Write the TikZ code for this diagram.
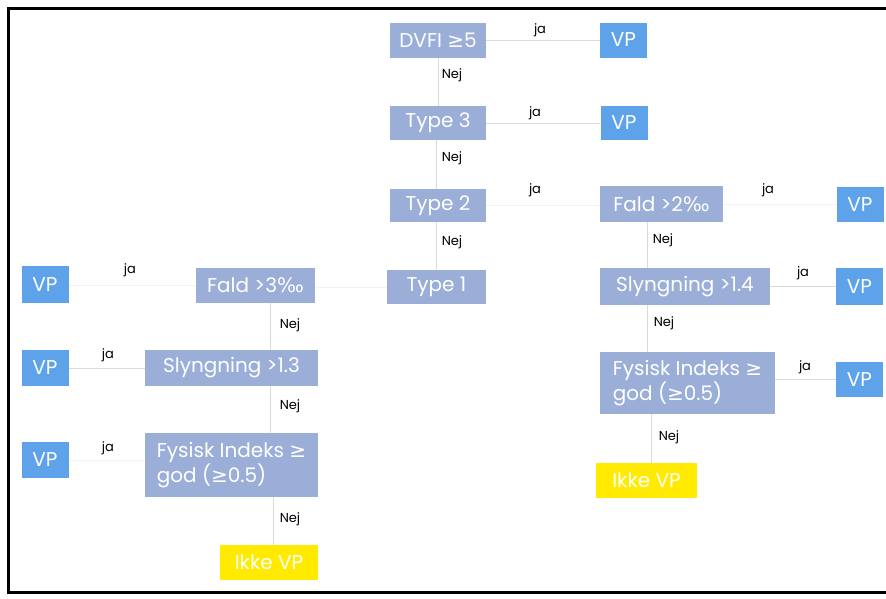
\documentclass[tikz,border=0pt]{standalone}
\usepackage{fontspec}
\setmainfont{Poppins}
\newfontfamily\symf{DejaVu Sans}
\newcommand{\gsym}{{\symf ≥}}
\newcommand{\pmil}{{\symf ‰}}
\definecolor{decblue}{HTML}{9AAED8}
\definecolor{vpblue}{HTML}{5EA2EA}
\definecolor{ikkeyel}{HTML}{FFEA00}
\definecolor{linegray}{HTML}{DADADA}
\tikzset{
  box/.style={inner sep=0pt, text=white, font=\fontsize{20}{22}\selectfont, align=left},
  dec/.style={box, fill=decblue},
  vpbox/.style={box, fill=vpblue, minimum width=47pt, minimum height=35pt},
  ikke/.style={box, fill=ikkeyel},
  lbl/.style={font=\fontsize{13}{15}\selectfont, text=black, inner sep=0pt},
  conn/.style={draw=linegray, line width=1pt},
  faint/.style={draw=black!5, line width=1pt},
  frame/.style={draw=black, line width=3pt}
}
\begin{document}
\begin{tikzpicture}[x=1pt,y=-1pt]
\useasboundingbox (0,0) rectangle (886,598);
\fill[white] (0,0) rectangle (886,598);
% frame
\coordinate (ftl) at (8,8);
\coordinate (ftr) at (886,8);
\coordinate (fbl) at (8,592);
\coordinate (fbr) at (886,592);
\draw[frame] (ftr) -- (ftl) -- (fbl) -- (fbr);
% decision nodes
\node[dec, minimum width=96pt, minimum height=35pt] (dvfi) at (438,40) {DVFI \gsym5};
\node[dec, minimum width=96pt, minimum height=34pt] (type3) at (438,123) {Type 3};
\node[dec, minimum width=96pt, minimum height=33pt] (type2) at (438,205.5) {Type 2};
\node[dec, minimum width=99pt, minimum height=34pt] (type1) at (436.5,287) {Type 1};
\node[dec, minimum width=123pt, minimum height=36pt] (fald2) at (661.5,204) {Fald >2\pmil};
\node[dec, minimum width=170pt, minimum height=37pt] (sly14) at (685,286.5) {Slyngning >1.4};
\node[dec, minimum width=175pt, minimum height=62pt] (fysr) at (687.5,383) {Fysisk Indeks \gsym\\god (\gsym0.5)};
\node[dec, minimum width=119pt, minimum height=35pt] (fald3) at (255.5,285.5) {Fald >3\pmil};
\node[dec, minimum width=173pt, minimum height=36pt] (sly13) at (231.5,368) {Slyngning >1.3};
\node[dec, minimum width=173pt, minimum height=64pt] (fysl) at (231.5,465) {Fysisk Indeks \gsym\\god (\gsym0.5)};
% VP nodes
\node[vpbox] (vp1) at (623.5,40) {VP};
\node[vpbox, minimum height=34pt] (vp2) at (624,123) {VP};
\node[vpbox] (vp3) at (860,204.5) {VP};
\node[vpbox, minimum height=37pt] (vp4) at (859.5,286.5) {VP};
\node[vpbox] (vpr) at (859.5,379.5) {VP};
\node[vpbox, minimum height=37pt] (vpl1) at (45,284.5) {VP};
\node[vpbox, minimum height=36pt] (vpl2) at (45,368) {VP};
\node[vpbox, minimum height=36pt] (vpl3) at (45,460) {VP};
% Ikke VP
\node[ikke, minimum width=98pt, minimum height=35pt] (ikkel) at (269,562.5) {Ikke VP};
\node[ikke, minimum width=101pt, minimum height=35pt] (ikker) at (646.5,480.5) {Ikke VP};
% ja connectors
\draw[conn] (dvfi.east) -- (vp1.west);
\draw[conn] (type3.east) -- (vp2.west);
\draw[faint] (type2.east) -- (type2.east -| fald2.west);
\draw[faint] (fald2.east) -- (fald2.east -| vp3.west);
\draw[conn] (sly14.east) -- (sly14.east -| vp4.west);
\draw[conn] (fysr.east |- vpr.west) -- (vpr.west);
\draw[faint] (type1.west) -- (type1.west -| fald3.east);
\draw[faint] (fald3.west) -- (fald3.west -| vpl1.east);
\draw[conn] (sly13.west) -- (sly13.west -| vpl2.east);
\draw[faint] (fysl.west |- vpl3.east) -- (vpl3.east);
% nej connectors
\draw[conn] (dvfi.south) -- (type3.north);
\draw[conn] ([xshift=-2pt]type3.south) -- ([xshift=-2pt]type3.south |- type2.north);
\draw[conn] ([xshift=-2pt]type2.south) -- ([xshift=-2pt]type2.south |- type1.north);
\draw[conn] ([xshift=-14pt]fald2.south) -- ([xshift=-14pt]fald2.south |- sly14.north);
\draw[conn] ([xshift=-14pt]fald2.south |- sly14.south) -- ([xshift=-14pt]fald2.south |- fysr.north);
\draw[conn] ([xshift=5pt]ikker.north |- fysr.south) -- ([xshift=5pt]ikker.north);
\draw[conn] ([xshift=15pt]fald3.south) -- ([xshift=15pt]fald3.south |- sly13.north);
\draw[conn] ([xshift=15pt]fald3.south |- sly13.south) -- ([xshift=15pt]fald3.south |- fysl.north);
\draw[conn] ([xshift=4pt]ikkel.north |- fysl.south) -- ([xshift=4pt]ikkel.north);
% labels
\node[lbl] (j1) at (540,30) {ja};
\node[lbl] (j2) at (535,113) {ja};
\node[lbl] (j3) at (535,190) {ja};
\node[lbl] (j4) at (768,190) {ja};
\node[lbl] (j5) at (803,273) {ja};
\node[lbl] (j6) at (805,367) {ja};
\node[lbl] (j7) at (130,270) {ja};
\node[lbl] (j8) at (108,355) {ja};
\node[lbl] (j9) at (108,448) {ja};
\node[lbl] (n1) at (452,75) {Nej};
\node[lbl] (n2) at (452,158) {Nej};
\node[lbl] (n3) at (452,242) {Nej};
\node[lbl] (n4) at (663,240) {Nej};
\node[lbl] (n5) at (664,323) {Nej};
\node[lbl] (n6) at (669,437) {Nej};
\node[lbl] (n7) at (290,325) {Nej};
\node[lbl] (n8) at (290,406) {Nej};
\node[lbl] (n9) at (290,519) {Nej};
\end{tikzpicture}
\end{document}
